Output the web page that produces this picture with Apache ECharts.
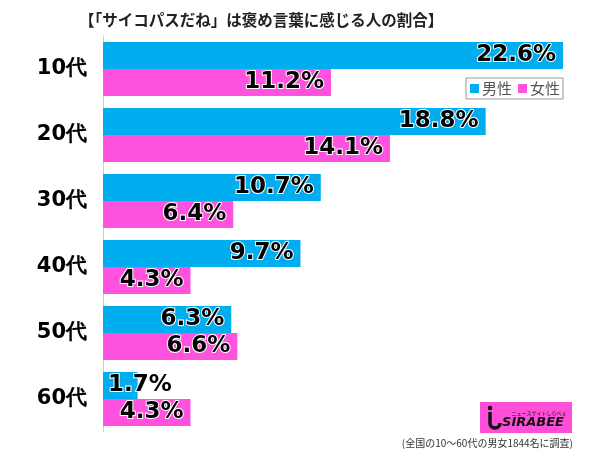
<!DOCTYPE html>
<html><head><meta charset="utf-8">
<script src="https://cdn.jsdelivr.net/npm/echarts@6/dist/echarts.min.js"></script>
<style>html,body{margin:0;padding:0;background:#fff}#c{width:600px;height:449px}</style>
</head><body><div id="c"></div>
<script>
const title = '【「サイコパスだね」は褒め言葉に感じる人の割合】';
const categories = ['10代','20代','30代','40代','50代','60代'];
const male = [22.6, 18.8, 10.7, 9.7, 6.3, 1.7];
const female = [11.2, 14.1, 6.4, 4.3, 6.6, 4.3];
const seriesNames = ['男性','女性'];
const note = '(全国の10～60代の男女1844名に調査)';

const labelBase = {
  show: true, position: 'insideRight', distance: 7,
  formatter: p => p.value.toFixed(1) + '%',
  color: '#000', fontFamily: 'DejaVu Sans', fontWeight: 'bold', fontSize: 23,
  textBorderColor: '#fff', textBorderWidth: 2
};
function toData(arr){
  return arr.map(v => v < 3 ? {value: v, label: {position: 'insideLeft', distance: 5}} : v);
}
const chart = echarts.init(document.getElementById('c'));
chart.setOption({
  animation: false,
  backgroundColor: '#fff',
  title: { text: title, left: 74, top: 7,
    textStyle: { fontSize: 15.5, fontWeight: 'bold', color: '#222', fontFamily: 'Noto Sans CJK JP' } },
  legend: { data: seriesNames, right: 37, top: 78, orient: 'horizontal',
    itemWidth: 9, itemHeight: 9, itemGap: 6, padding: [3,3,3,4],
    borderColor: '#999', borderWidth: 1, backgroundColor: '#fff',
    icon: 'rect',
    textStyle: { fontSize: 15, color: '#555', fontFamily: 'Noto Sans CJK JP', padding: [0,0,0,-2] } },
  grid: { left: 103, right: 37, top: 36, bottom: 17 },
  xAxis: { type: 'value', min: 0, max: 'dataMax', show: false },
  yAxis: { type: 'category', data: categories, inverse: true,
    axisLine: { show: true, lineStyle: { color: '#ccc', width: 1 } },
    axisTick: { show: false },
    axisLabel: { margin: 16, color: '#000', fontSize: 21, fontWeight: 'bold', fontFamily: 'DejaVu Sans' } },
  series: [
    { name: seriesNames[0], type: 'bar', data: toData(male), barGap: '0%', barCategoryGap: '18%',
      itemStyle: { color: '#00AEEF' }, label: labelBase },
    { name: seriesNames[1], type: 'bar', data: toData(female), barGap: '0%', barCategoryGap: '18%',
      itemStyle: { color: '#FF52DE' }, label: labelBase }
  ],
  graphic: [
    { type: 'rect', shape: { x: 480, y: 402, width: 92, height: 31 }, style: { fill: '#FF4FD8' } },
    { type: 'circle', shape: { cx: 490, cy: 408, r: 2.3 }, style: { fill: '#111' } },
    { type: 'line', shape: { x1: 490, y1: 412, x2: 490, y2: 423 }, style: { stroke: '#111', lineWidth: 3.5 } },
    { type: 'arc', shape: { cx: 495, cy: 423, r: 5, startAngle: 0, endAngle: Math.PI, clockwise: true }, style: { fill: 'none', stroke: '#111', lineWidth: 3.5 } },
    { type: 'text', style: { x: 539, y: 413, text: 'ニュースサイトしらべぇ', align: 'center', verticalAlign: 'middle', fontSize: 5, fontFamily: 'Noto Sans CJK JP', fill: '#111' } },
    { type: 'text', style: { x: 533, y: 423, text: 'SIRABEE', align: 'center', verticalAlign: 'middle', fontSize: 13, fontWeight: 'bold', fontStyle: 'italic', fontFamily: 'DejaVu Sans', fill: '#111' } },
    { type: 'text', style: { x: 573, y: 443, text: note, align: 'right', verticalAlign: 'middle', fontSize: 10, fontFamily: 'Noto Sans CJK JP', fill: '#333' } }
  ]
});
</script></body></html>
